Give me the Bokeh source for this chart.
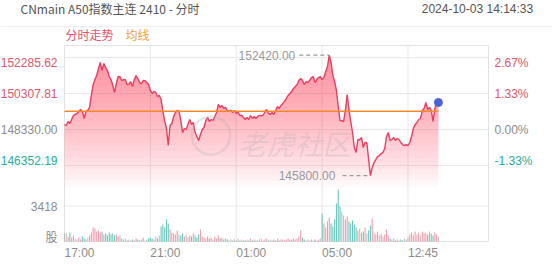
import numpy as np
from bokeh.plotting import figure
from bokeh.models import Range1d, Label
from bokeh.embed import file_html
from bokeh.resources import INLINE

# ---------------- data ----------------
title_text = "CNmain A50指数主连 2410 - 分时"
timestamp = "2024-10-03  14:14:33"
legend_items = ["分时走势", "均线"]
watermark_text = "老虎社区"
vol_unit = "股"
sessions = [("17:00", "05:15"), ("09:00", "16:30")]
bar_minutes = 5
time_ticks = ["17:00", "21:00", "01:00", "05:00", "12:45"]
prev_close = 148330.00
price_ticks = [152285.62, 150307.81, 148330.00, 146352.19]
vol_tick = 3418
avg_price = 149330

price = [
    148605, 148550, 148770, 148660, 148880, 149100, 149155, 149210, 149320, 149430,
    149320, 148935, 149320, 149375, 149540, 150200, 150800, 151075, 151295, 151680,
    152010, 151570, 151955, 151735, 151570, 151240, 151075, 150745, 150365, 150855,
    151240, 151225, 151020, 151075, 151060, 150800, 150815, 150965, 150690, 151075,
    151295, 151130, 150910, 150855, 151020, 151005, 150910, 150800, 150475, 150310,
    150420, 150365, 150145, 150200, 149980, 149320, 148825, 148385, 147450, 148550,
    148660, 149045, 149265, 149375, 149320, 148825, 148165, 148385, 148330, 148605,
    148880, 148605, 148715, 148165, 147945, 147725, 148055, 148330, 148440, 148825,
    148990, 148770, 148880, 148825, 149045, 149265, 149705, 149540, 149650, 149485,
    149540, 149375, 149320, 149390, 149265, 149375, 149210, 149265, 149100, 149115,
    148990, 148880, 148990, 148880, 149100, 148935, 149045, 148935, 149045, 149100,
    149085, 149120, 149265, 149430, 149210, 149155, 149265, 149155, 149375, 149595,
    149485, 149650, 149760, 149870, 150035, 150200, 150310, 150420, 150585, 150690,
    150800, 151020, 151130, 151020, 150800, 150965, 150910, 151020, 151185, 151240,
    150910, 151075, 151185, 151240, 151075, 151185, 151515, 151790, 152420, 152010,
    151295, 150965, 150475, 149595, 148825, 148810, 148770, 149375, 150255, 149430,
    148770, 148165, 147340, 147065, 147780, 147765, 147890, 147340, 147615, 147600,
    146680, 145800, 146240, 146515, 146680, 146845, 146900, 147010, 147065, 147285,
    147945, 148165, 147725, 147780, 147890, 147725, 147835, 147780, 147615, 147505,
    147450, 147505, 147450, 147615, 147945, 148385, 148605, 148715, 148880, 148935,
    149375, 149485, 149815, 149430, 149540, 149375, 148770, 149485, 149760, 149815,
]

volume = [
    770, 780, 480, 870, 390, 580, 290, 190, 390, 190,
    480, 290, 190, 390, 580, 870, 1350, 1250, 960, 1060,
    870, 960, 670, 770, 580, 870, 670, 770, 580, 670,
    480, 580, 290, 190, 290, 100, 190, 100, 190, 100,
    290, 190, 100, 190, 390, 100, 190, 290, 390, 290,
    190, 480, 290, 580, 1440, 1640, 1350, 2120, 1730, 1160,
    870, 770, 670, 1060, 670, 580, 770, 480, 670, 390,
    580, 480, 770, 580, 390, 670, 1160, 480, 390, 290,
    480, 290, 390, 190, 480, 290, 580, 290, 390, 190,
    290, 190, 100, 190, 100, 190, 100, 290, 100, 190,
    100, 100, 190, 100, 290, 100, 190, 100, 100, 190,
    290, 100, 190, 290, 100, 190, 100, 190, 100, 290,
    100, 190, 190, 100, 190, 290, 190, 190, 290, 190,
    290, 480, 1060, 390, 190, 100, 190, 100, 190, 100,
    190, 100, 190, 290, 2700, 1730, 1350, 1930, 2310, 1730,
    1440, 2120, 3660, 5010, 3370, 2890, 2500, 2120, 2410, 1930,
    1730, 2020, 1640, 1350, 1060, 1250, 870, 960, 1350, 770,
    1060, 1540, 2210, 870, 670, 960, 580, 770, 480, 670,
    1160, 580, 290, 190, 290, 100, 190, 100, 190, 100,
    290, 190, 390, 670, 870, 580, 960, 670, 870, 580,
    960, 770, 870, 670, 960, 770, 580, 870, 670, 480,
]

# ---------------- helpers ----------------
def to_min(s):
    h, m = s.split(":")
    return int(h) * 60 + int(m)

def sess_len(a, b):
    d = to_min(b) - to_min(a)
    return d if d > 0 else d + 1440

total_minutes = sum(sess_len(a, b) for a, b in sessions)

def time_index(t):
    off = 0
    for a, b in sessions:
        L = sess_len(a, b)
        d = (to_min(t) - to_min(a)) % 1440
        if d <= L:
            return off + d
        off += L
    return off

# ---------------- layout (pixels) ----------------
W, H = 552, 265
FL, FR, FT, FB = 64, 488, 45, 241          # chart box
GT, GB = 57, 165                            # pixel rows of first/last price tick
VG = 205.5                                  # pixel row of volume tick
mpp = total_minutes / (FR - FL)             # minutes per pixel
ppx = (price_ticks[0] - price_ticks[-1]) / (GB - GT)
vpp = vol_tick / (FB - VG)

def price_at(py):
    return price_ticks[0] - (py - GT) * ppx

def vol_at(py):
    return (FB - py) * vpp

price_arr = np.array(price, dtype=float)
xs = np.arange(len(price)) * bar_minutes

FONT = "Liberation Sans"
CJK = "Noto Sans CJK SC"
RED, TEAL, GRAY = "#e2566b", "#26ae9c", "#8c8c8c"
GRID = "#e8e8e8"

p = figure(width=W, height=H, output_backend="svg", toolbar_location=None,
           x_range=Range1d(-FL * mpp, (W - FL) * mpp),
           y_range=Range1d(price_at(H), price_at(0)),
           x_axis_type=None, y_axis_type=None, min_border=0)
p.extra_y_ranges = {"vol": Range1d(vol_at(H), vol_at(0))}
p.outline_line_color = None
p.background_fill_color = "white"
p.border_fill_color = "white"

tick_idx = [time_index(t) for t in time_ticks]
y_box_top, y_box_bot = price_at(FT), price_at(FB)

# header separator
p.segment(x0=[-FL * mpp], x1=[(W - FL) * mpp], y0=[price_at(26)], y1=[price_at(26)],
          line_color="#f0f0f0", line_width=1)
# gridlines
p.segment(x0=tick_idx[1:], x1=tick_idx[1:], y0=y_box_bot, y1=y_box_top,
          line_color=GRID, line_width=1)
p.segment(x0=0, x1=total_minutes, y0=price_ticks, y1=price_ticks,
          line_color=GRID, line_width=1)
p.segment(x0=[0], x1=[total_minutes], y0=[vol_tick], y1=[vol_tick],
          y_range_name="vol", line_color=GRID, line_width=1)
p.quad(left=[0], right=[total_minutes], bottom=[y_box_bot], top=[y_box_top],
       fill_color=None, line_color="#e2e2e2", line_width=1)

# gradient fill under the line (stacked translucent bands)
levels = np.linspace(price_at(186), price_at(50), 24)
for L in levels:
    p.varea(x=xs, y1=L, y2=np.maximum(price_arr, L),
            fill_color="#fb5d6d", fill_alpha=0.042)

# volume bars
diff = np.diff(price_arr, prepend=price_arr[0])
vcol = ["#f08a9c" if d > 100 else ("#4cbcae" if d < -100 else "#b4b4b4") for d in diff]
p.vbar(x=xs, top=volume, width=bar_minutes * 0.6, bottom=0, y_range_name="vol",
       fill_color=vcol, line_color=None, fill_alpha=0.85)

# Label "screen" units: frame (= whole canvas) bottom-left corner origin
def lab(text, x, y, **kw):
    opts = dict(x=x, y=H - y, x_units="screen", y_units="screen", text=text,
                text_font=FONT, text_font_size="12px", text_color=GRAY,
                text_baseline="middle", text_align="left")
    opts.update(kw)
    p.add_layout(Label(**opts))

# watermark
lab(watermark_text, 238, 142, text_font=CJK, text_font_size="28px",
    text_color="#b0b0b0", text_alpha=0.3, text_font_style="italic")
lab("◯", 188, 131, text_font="DejaVu Sans", text_font_size="40px",
    text_color="#b0b0b0", text_alpha=0.3)

# price / avg line
p.line(xs, price_arr, line_color="#ee3d5e", line_width=1.4)
p.line(xs, [avg_price] * len(xs), line_color="#f5892a", line_width=1.5)
p.scatter([xs[-1]], [price_arr[-1]], size=8, fill_color="#4d62d6", line_color="#4d62d6")

# max / min markers
imax, imin = int(np.argmax(price_arr)), int(np.argmin(price_arr))
for i, gap, dash_len in [(imax, 34, 30), (imin, 35, 28)]:
    xm, ym = xs[i], price_arr[i]
    p.segment(x0=[xm - dash_len * mpp], y0=[ym], x1=[xm], y1=[ym],
              line_color="#9a9a9a", line_width=1.3, line_dash="4 3")
    p.add_layout(Label(x=xm, y=ym, x_offset=-gap, text=f"{ym:.2f}",
                       text_font=FONT, text_font_size="12px", text_color="#999999",
                       text_align="right", text_baseline="middle"))

# left / right axis texts
n = len(price_ticks)
for j, v in enumerate(price_ticks):
    pct = (v / prev_close - 1) * 100
    col = RED if v > prev_close else (TEAL if v < prev_close else GRAY)
    off = -5 if j == 0 else (5 if j == n - 1 else 0)
    p.add_layout(Label(x=FL - 7, y=v, x_units="screen", y_units="data", y_offset=off,
                       text=f"{v:.2f}", text_font=FONT, text_font_size="12px",
                       text_color=col, text_align="right", text_baseline="middle"))
    p.add_layout(Label(x=FR + 6, y=v, x_units="screen", y_units="data", y_offset=off,
                       text=f"{pct:.2f}%", text_font=FONT, text_font_size="12px",
                       text_color=col, text_align="left", text_baseline="middle"))
p.add_layout(Label(x=FL - 7, y=vol_tick, x_units="screen", y_units="data",
                   y_range_name="vol", text=str(vol_tick), text_font=FONT,
                   text_font_size="12px", text_color=GRAY, text_align="right",
                   text_baseline="middle"))
lab(vol_unit, FL - 7, 236, text_font=CJK, text_align="right")

# time axis labels (left-aligned at their gridlines)
for ti, t in zip(tick_idx, time_ticks):
    p.add_layout(Label(x=ti, y=H - 252, x_units="data", y_units="screen", text=t,
                       text_font=FONT, text_font_size="12px", text_color=GRAY,
                       text_align="left", text_baseline="middle"))

# header
lab(title_text, 20, 8, text_font=CJK, text_color="#555555")
lab(timestamp, 536, 8, text_color="#555555", text_align="right")
lab(legend_items[0], 65, 34, text_font=CJK, text_color="#e8506a")
lab(legend_items[1], 125, 34, text_font=CJK, text_color="#f0a040")

open("out.html", "w").write(file_html(p, INLINE))
